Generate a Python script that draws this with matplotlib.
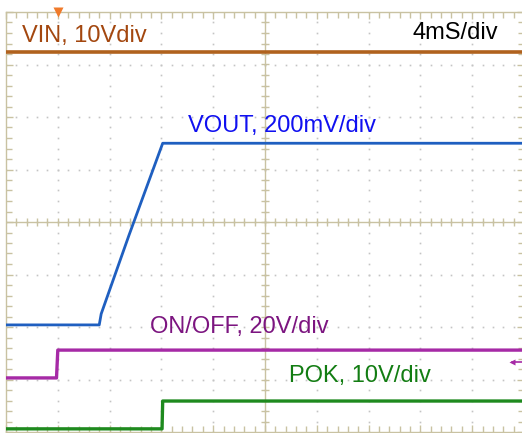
import numpy as np
import matplotlib.pyplot as plt

plt.rcParams['font.family'] = ['Liberation Sans', 'DejaVu Sans']

# time base: 4 ms/div, 10 divisions across; vertical values in divisions from the bottom
vin_t = [0.0, 40.0]
vin_div = [7.24, 7.24]

vout_t = [0.0, 7.2, 7.35, 9.5, 12.1, 40.0]
vout_div = [2.04, 2.04, 2.25, 3.75, 5.50, 5.50]

onoff_t = [0.0, 3.9, 4.0, 40.0]
onoff_div = [1.03, 1.03, 1.56, 1.56]

pok_t = [0.0, 12.05, 12.1, 40.0]
pok_div = [0.06, 0.06, 0.59, 0.59]

grid_col = '#c9c2a2'
dot_col = '#c4c4c4'

fig = plt.figure(figsize=(5.22, 4.33), dpi=100)
ax = fig.add_axes([6 / 522, 1 / 433, 518 / 522, 420 / 433])
ax.set_xlim(0, 40)
ax.set_ylim(0, 8)

# graticule dots along every major line
for gx in np.arange(4, 40, 4):
    ys = np.arange(0, 8.01, 0.2)
    ax.plot(np.full_like(ys, gx), ys, 's', ms=1.2, color=dot_col, mec='none', zorder=1)
for gy in np.arange(1, 8, 1):
    xs = np.arange(0, 40.01, 0.8)
    ax.plot(xs, np.full_like(xs, gy), 's', ms=1.2, color=dot_col, mec='none', zorder=1)

# centre cross with fine ticks
ax.axhline(4, color=grid_col, lw=1, zorder=1)
ax.axvline(20, color=grid_col, lw=1, zorder=1)
cx = np.arange(0.8, 40, 0.8)
ax.plot(cx, np.full_like(cx, 4), '|', ms=6, mew=1, color=grid_col, zorder=1)
cy = np.arange(0.2, 8, 0.2)
ax.plot(np.full_like(cy, 20), cy, '_', ms=6, mew=1, color=grid_col, zorder=1)

# border
for s in ax.spines.values():
    s.set_color(grid_col)
    s.set_linewidth(1)
ax.set_xticks(np.arange(0, 40.01, 4))
ax.set_xticks(np.arange(0, 40.01, 0.8), minor=True)
ax.set_yticks(np.arange(0, 8.01, 1))
ax.set_yticks(np.arange(0, 8.01, 0.2), minor=True)
ax.tick_params(which='both', direction='in', top=True, right=True,
               labelbottom=False, labelleft=False, color=grid_col, width=1)
ax.tick_params(which='major', length=5)
ax.tick_params(which='minor', length=4)

# traces
ax.plot(vin_t, vin_div, color='#b0621e', lw=2.6, zorder=3)
ax.plot(vout_t, vout_div, color='#1f5fc0', lw=2.0, zorder=3)
ax.plot(onoff_t, onoff_div, color='#a62aa6', lw=2.4, zorder=3)
ax.plot(pok_t, pok_div, color='#1e8a1e', lw=2.4, zorder=3)

# trigger and ground markers
ax.plot([4.0], [8.0], 'v', ms=7, color='#f07a2a', mec='none', clip_on=False, zorder=4)
ax.plot([39.1, 40.2], [1.33, 1.33], color='#a62aa6', lw=1.2, zorder=4)
ax.plot([39.1], [1.33], '<', ms=4, color='#a62aa6', mec='none', zorder=4)

fs = 17
ax.text(1.24, 7.43, 'VIN, 10Vdiv', color='#a3470f', fontsize=fs, va='baseline', zorder=5)
ax.text(31.4, 7.49, '4mS/div', color='black', fontsize=fs, va='baseline', zorder=5)
ax.text(14.05, 5.72, 'VOUT, 200mV/div', color='#1010f0', fontsize=fs, va='baseline', zorder=5)
ax.text(11.1, 1.89, 'ON/OFF, 20V/div', color='#7c1580', fontsize=fs, va='baseline', zorder=5)
ax.text(21.85, 0.95, 'POK, 10V/div', color='#137d13', fontsize=fs, va='baseline', zorder=5)

fig.savefig('out.png', dpi=100)
